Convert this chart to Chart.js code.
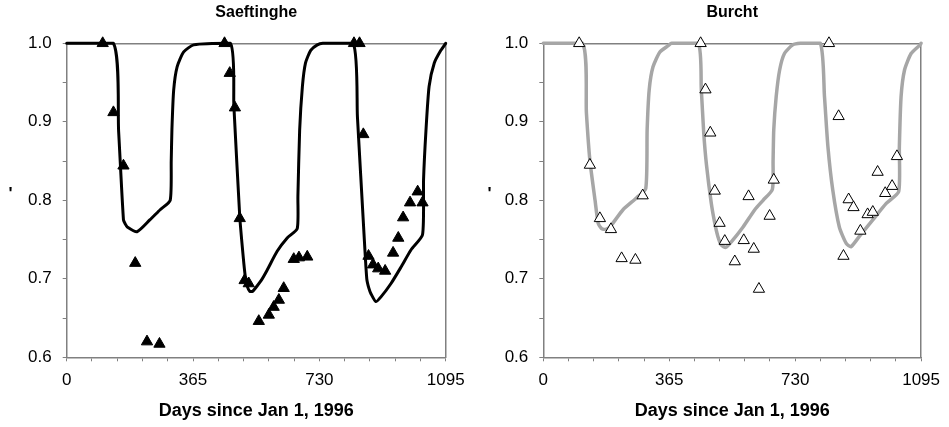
<!DOCTYPE html>
<html>
<head>
<meta charset="utf-8">
<script src="https://cdn.jsdelivr.net/npm/chart.js@4.4.1/dist/chart.umd.min.js"></script>
<style>
  html, body { margin: 0; padding: 0; background: #fff; }
  #wrap { position: relative; width: 949px; height: 427px; overflow: hidden; }
  canvas { position: absolute; top: 0; }
</style>
</head>
<body>
<div id="wrap">
  <canvas id="left" width="480" height="427" style="left:0px"></canvas>
  <canvas id="right" width="469" height="427" style="left:480px"></canvas>
</div>
<script>
// ---------------- DATA ----------------
const panelTitles = ['Saeftinghe', 'Burcht'];
const xAxisTitle = 'Days since Jan 1, 1996';
const yAxisTitle = "'";
const xTickLabels = [0, 365, 730, 1095];
const yTickLabels = ['0.6', '0.7', '0.8', '0.9', '1.0'];

// Saeftinghe model curve
const saefModelDays = [0, 135, 150, 164, 169, 175, 203, 240, 270, 299, 302, 304, 309, 319, 338, 367,
  473, 483, 500, 510, 516, 522, 529, 537, 545, 562, 579, 608, 637, 666, 668, 673, 681, 690, 705, 724, 740,
  828, 840, 859, 867, 873, 879, 893, 908, 937, 966, 995, 1028, 1031, 1038, 1047, 1062, 1081, 1095];
const saefModelVals = [1.0, 1.0, 0.888, 0.775, 0.770, 0.766, 0.760, 0.775, 0.788, 0.800, 0.85, 0.890, 0.940, 0.970, 0.989, 0.998,
  1.0, 0.920, 0.779, 0.728, 0.703, 0.690, 0.684, 0.684, 0.688, 0.698, 0.711, 0.735, 0.752, 0.764, 0.805, 0.889, 0.945, 0.975, 0.991, 0.998, 1.0,
  1.0, 0.906, 0.757, 0.700, 0.688, 0.681, 0.671, 0.677, 0.694, 0.715, 0.737, 0.756, 0.826, 0.889, 0.945, 0.975, 0.991, 1.0];

// Saeftinghe observations
const saefObsDays = [104, 135, 164, 198, 232, 268,
  456, 471, 486, 500, 514, 526, 555, 584, 598, 613, 627, 656, 671, 695,
  830, 846, 857, 872, 885, 900, 920, 943, 958, 972, 992, 1014, 1028];
const saefObsVals = [1.0, 0.912, 0.844, 0.720, 0.620, 0.617,
  1.0, 0.962, 0.918, 0.777, 0.698, 0.694, 0.646, 0.654, 0.664, 0.673, 0.688, 0.725, 0.727, 0.728,
  1.0, 1.0, 0.884, 0.729, 0.718, 0.713, 0.710, 0.733, 0.752, 0.778, 0.797, 0.811, 0.797];

// Burcht model curve
const burchtModelDays = [0, 114, 125, 135, 150, 159, 169, 180, 193, 231, 270, 297, 301, 307, 318, 338, 362, 372,
  449, 458, 465, 473, 487, 497, 506, 516, 529, 545, 579, 613, 637, 664, 666, 668, 675, 685, 699, 723, 745,
  803, 815, 825, 839, 858, 878, 892, 916, 955, 994, 1030, 1032, 1037, 1047, 1066, 1092, 1095];
const burchtModelVals = [1.0, 1.0, 0.911, 0.851, 0.800, 0.771, 0.764, 0.763, 0.766, 0.788, 0.803, 0.815, 0.890, 0.941, 0.970, 0.989, 0.997, 1.0,
  1.0, 0.941, 0.886, 0.845, 0.796, 0.771, 0.754, 0.743, 0.740, 0.747, 0.766, 0.788, 0.800, 0.814, 0.850, 0.890, 0.932, 0.966, 0.987, 0.998, 1.0,
  1.0, 0.932, 0.868, 0.813, 0.766, 0.745, 0.741, 0.754, 0.775, 0.796, 0.811, 0.868, 0.932, 0.966, 0.987, 0.998, 1.0];

// Burcht observations
const burchtObsDays = [104, 135, 164, 196, 227, 267, 288,
  456, 470, 484, 497, 511, 526, 555, 581, 595, 610, 625, 656, 668,
  828, 856, 870, 885, 899, 919, 940, 955, 969, 991, 1011, 1025];
const burchtObsVals = [1.0, 0.845, 0.777, 0.763, 0.726, 0.724, 0.806,
  1.0, 0.941, 0.886, 0.812, 0.771, 0.748, 0.722, 0.749, 0.805, 0.738, 0.687, 0.780, 0.826,
  1.0, 0.907, 0.729, 0.801, 0.791, 0.761, 0.782, 0.785, 0.836, 0.809, 0.818, 0.856];

// ---------------- CHART BUILD ----------------
const FONT = "'Liberation Sans', Arial, sans-serif";
const AXIS_GRAY = '#808080';

function pts(xs, ys) { return xs.map((x, i) => ({ x: x, y: ys[i] })); }

function yTitlePlugin(xPos) {
  return {
    id: 'yTitleMark',
    afterDraw(chart) {
      const ctx = chart.ctx;
      ctx.save();
      ctx.font = 'bold 17px ' + FONT;
      ctx.fillStyle = '#000';
      ctx.textAlign = 'center';
      ctx.textBaseline = 'alphabetic';
      ctx.fillText(yAxisTitle, xPos, 199);
      ctx.restore();
    }
  };
}

function makeChart(canvasId, title, mDays, mVals, oDays, oVals, lineColor, lineWidth, fillColor, leftW, rightW, yMarkX) {
  const ctx = document.getElementById(canvasId).getContext('2d');
  return new Chart(ctx, {
    type: 'scatter',
    data: {
      datasets: [
        {
          label: 'obs',
          data: pts(oDays, oVals),
          pointStyle: 'triangle',
          pointRadius: 6.5,
          pointHoverRadius: 6.5,
          backgroundColor: fillColor,
          borderColor: '#000',
          borderWidth: 1,
          showLine: false,
          clip: false
        },
        {
          label: 'model',
          data: pts(mDays, mVals),
          showLine: true,
          pointRadius: 0,
          borderColor: lineColor,
          borderWidth: lineWidth,
          tension: 0.2,
          borderJoinStyle: 'round',
          borderCapStyle: 'round',
          fill: false,
          clip: 4
        }
      ]
    },
    options: {
      responsive: false,
      animation: false,
      devicePixelRatio: 1,
      layout: { padding: 0 },
      plugins: { legend: { display: false }, title: { display: false }, tooltip: { enabled: false } },
      scales: {
        x: {
          type: 'linear', position: 'bottom', min: 0, max: 1095,
          afterFit: s => { s.height = 69.7; },
          afterBuildTicks: s => { s.ticks = []; for (let v = 0; v <= 1095; v += 73) s.ticks.push({ value: v }); },
          ticks: {
            autoSkip: false, maxRotation: 0, padding: 9, color: '#000',
            font: { family: FONT, size: 17 },
            callback: v => (xTickLabels.indexOf(v) >= 0 ? String(v) : '')
          },
          grid: { display: true, drawOnChartArea: false, drawTicks: true, tickLength: 4, color: AXIS_GRAY, lineWidth: 1 },
          border: { display: true, color: AXIS_GRAY, width: 1.5 },
          title: { display: true, text: xAxisTitle, color: '#000', font: { family: FONT, size: 18, weight: 'bold' }, padding: { top: 0, bottom: 5 } }
        },
        xTop: {
          type: 'linear', position: 'top', min: 0, max: 1095,
          afterFit: s => { s.height = 43.3; },
          ticks: { display: false },
          grid: { display: false, drawTicks: false },
          border: { display: true, color: AXIS_GRAY, width: 1.5 },
          title: { display: true, text: title, color: '#000', font: { family: FONT, size: 16, weight: 'bold' }, padding: { top: 3, bottom: 0 } }
        },
        y: {
          type: 'linear', position: 'left', min: 0.6, max: 1.0,
          afterFit: s => { s.width = leftW; },
          afterBuildTicks: s => { s.ticks = []; for (let i = 0; i <= 8; i++) s.ticks.push({ value: +(0.6 + i * 0.05).toFixed(2) }); },
          ticks: {
            autoSkip: false, padding: 11, color: '#000',
            font: { family: FONT, size: 17 },
            callback: v => { const s = (+v).toFixed(1); return (Math.abs(v * 10 - Math.round(v * 10)) < 1e-6 && yTickLabels.indexOf(s) >= 0) ? s : ''; }
          },
          grid: { display: true, drawOnChartArea: false, drawTicks: true, tickLength: 4, color: AXIS_GRAY, lineWidth: 1 },
          border: { display: true, color: AXIS_GRAY, width: 1.5 }
        },
        yRight: {
          type: 'linear', position: 'right', min: 0.6, max: 1.0,
          afterFit: s => { s.width = rightW; },
          ticks: { display: false },
          grid: { display: false, drawTicks: false },
          border: { display: true, color: AXIS_GRAY, width: 1.5 }
        }
      }
    },
    plugins: [yTitlePlugin(yMarkX)]
  });
}

makeChart('left', panelTitles[0], saefModelDays, saefModelVals, saefObsDays, saefObsVals,
  '#000000', 3, '#000000', 66.7, 480 - 445.7, 10.5);
makeChart('right', panelTitles[1], burchtModelDays, burchtModelVals, burchtObsDays, burchtObsVals,
  '#a6a6a6', 3.5, '#ffffff', 543.3 - 480, 949 - 921.7, 9.5);
</script>
</body>
</html>
